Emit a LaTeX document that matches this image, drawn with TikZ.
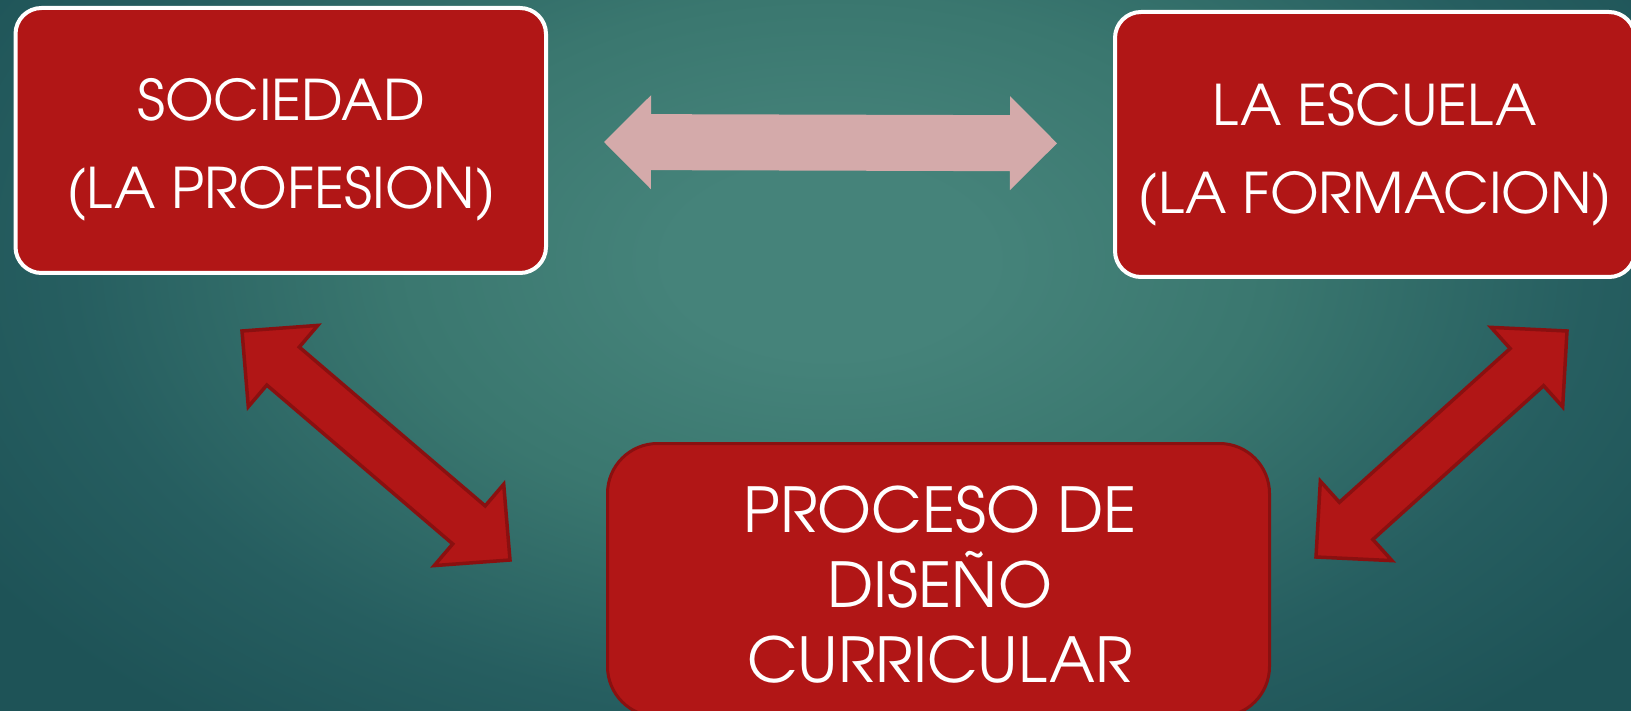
\documentclass[tikz,border=0pt]{standalone}
\usepackage{fontspec}
\setmainfont{texgyreadventor}[Extension=.otf, UprightFont=*-regular, BoldFont=*-bold]
\usetikzlibrary{calc}
\definecolor{bgin}{HTML}{45837A}
\definecolor{bgmid}{HTML}{3A776F}
\definecolor{bgedge}{HTML}{265E60}
\definecolor{bgout}{HTML}{1E5357}
\definecolor{boxred}{HTML}{B11616}
\definecolor{darkred}{HTML}{8A1010}
\definecolor{pinkarrow}{HTML}{D4AAAA}
\pgfdeclareradialshading{bgshade}{\pgfpoint{0bp}{0bp}}{color(0bp)=(bgin); color(4bp)=(bgin); color(11bp)=(bgmid); color(19bp)=(bgedge); color(25bp)=(bgout); color(50bp)=(bgout)}
% #1 style, #2 end A, #3 end B, #4 head length, #5 head half width, #6 shaft half width
\newcommand\dblarrow[6][]{%
  \coordinate (pa) at ($(#2)!#4!(#3)$);
  \coordinate (pb) at ($(#3)!#4!(#2)$);
  \draw[#1] (#2) -- ($(pa)!#5!90:(#3)$) -- ($(pa)!#6!90:(#3)$)
    -- ($(pb)!#6!-90:(#2)$) -- ($(pb)!#5!-90:(#2)$) -- (#3)
    -- ($(pb)!#5!90:(#2)$) -- ($(pb)!#6!90:(#2)$)
    -- ($(pa)!#6!-90:(#3)$) -- ($(pa)!#5!-90:(#3)$) -- cycle;}
\begin{document}
\begin{tikzpicture}[x=1pt,y=-1pt,
  whitebox/.style={rectangle, rounded corners=26pt, fill=boxred, draw=white, line width=4pt, inner sep=0pt},
  redbox/.style={rectangle, rounded corners=50pt, fill=boxred, draw=darkred, line width=3pt, inner sep=0pt},
  toptext/.style={text=white, align=center, inner sep=0pt, anchor=north, font=\fontsize{56}{88}\selectfont},
  bottext/.style={text=white, align=center, inner sep=0pt, anchor=north, font=\fontsize{62}{75}\selectfont},
  redarrow/.style={fill=boxred, draw=darkred, line width=3.5pt, line join=miter},
  pinkarr/.style={fill=pinkarrow, draw=none}]
\useasboundingbox (0,0) rectangle (1631,711);
\begin{scope}
\clip (0,0) rectangle (1631,711);
\fill[bgout] (0,0) rectangle (1631,711);
\shade[shading=bgshade] (-170,-340) rectangle (1830,860);
\end{scope}
% arrow ends
\coordinate (h1) at (604,142);
\coordinate (h2) at (1057,143.3);
\coordinate (l1) at (242,331);
\coordinate (l2) at (510,560);
\coordinate (r1) at (1316,557);
\coordinate (r2) at (1567,331);
\dblarrow[pinkarr]{h1}{h2}{47pt}{47pt}{28pt}
\dblarrow[redarrow]{l1}{l2}{54pt}{53.5pt}{25pt}
\dblarrow[redarrow]{r1}{r2}{54pt}{53.5pt}{25pt}
% boxes
\node[whitebox, minimum width=530.5pt, minimum height=265pt] (soc) at (280.75,140.5) {};
\node[whitebox, minimum width=520pt, minimum height=265pt] (esc) at (1375,144.5) {};
\node[redbox, minimum width=662pt, minimum height=273pt] (pro) at (938.5,580) {};
\node[toptext] (soct) at (281,78) {SOCIEDAD\\(LA PROFESION)};
\node[toptext] (esct) at (1375,83) {LA ESCUELA\\(LA FORMACION)};
\node[bottext] (prot) at (940,486) {PROCESO DE\\DISEÑO\\CURRICULAR};
\end{tikzpicture}
\end{document}
